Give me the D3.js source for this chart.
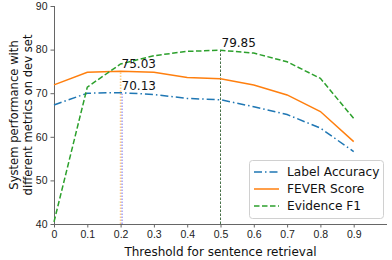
<!DOCTYPE html>
<html lang="en">
  <head>
    <meta charset="UTF-8" />
    <title>threshold for sentence retrieval</title>
    <script src="https://d3js.org/d3.v7.min.js"></script>
    <style>
      body {
        margin: 0;
      }
      svg {
        font-family: "DejaVu Sans", sans-serif;
      }
      .tick text {
        font-size: 10.5px;
        fill: #222;
      }
      .domain,
      .tick line {
        stroke: #666;
      }
    </style>
  </head>
  <body>
    <svg width="392" height="260"></svg>

    <script>
      const thresholds = [0, 0.1, 0.2, 0.3, 0.4, 0.5, 0.6, 0.7, 0.8, 0.9];
      const labelAccuracy = [67.3, 70.0, 70.13, 69.7, 68.8, 68.5, 66.9, 65.1, 62.0, 56.6];
      const feverScore = [71.9, 74.8, 75.03, 74.8, 73.6, 73.3, 71.9, 69.6, 65.8, 58.9];
      const evidenceF1 = [40.5, 71.4, 76.7, 78.6, 79.6, 79.85, 79.2, 77.2, 73.4, 64.2];
      const xTicks = [0, 0.1, 0.2, 0.3, 0.4, 0.5, 0.6, 0.7, 0.8, 0.9];
      const yTicks = [40, 50, 60, 70, 80, 90];

      const series = [
        { name: "Label Accuracy", values: labelAccuracy, color: "#1f77b4", dash: "8,3,1.5,3" },
        { name: "FEVER Score", values: feverScore, color: "#ff7f0e", dash: null },
        { name: "Evidence F1", values: evidenceF1, color: "#2ca02c", dash: "5.5,2.5" },
      ];

      const width = 392;
      const height = 260;
      const margin = { top: 6, right: 5, bottom: 36, left: 54 };
      const svg = d3.select("svg");

      const x = d3.scaleLinear().domain([0, 1]).range([margin.left, width - margin.right]);
      const y = d3.scaleLinear().domain([40, 90]).range([height - margin.bottom, margin.top]);

      svg
        .append("g")
        .attr("transform", `translate(0,${height - margin.bottom})`)
        .call(d3.axisBottom(x).tickValues(xTicks).tickFormat(d3.format("~g")).tickSize(3.5).tickPadding(3))
        .call((g) => g.select(".domain").attr("d", `M${margin.left},0.5H${width - margin.right}`));

      svg
        .append("g")
        .attr("transform", `translate(${margin.left},0)`)
        .call(d3.axisLeft(y).tickValues(yTicks).tickSize(3.5).tickPadding(3))
        .call((g) => g.select(".domain").attr("d", `M0.5,${y(40)}V${y(90)}`));

      // guide lines
      svg
        .append("line")
        .attr("x1", x(0.2))
        .attr("x2", x(0.2))
        .attr("y1", y(40))
        .attr("y2", y(feverScore[2]))
        .attr("stroke", "#ffb84d")
        .attr("stroke-opacity", 0.7)
        .attr("stroke-width", 1.6)
        .attr("stroke-dasharray", "1.5,1.5");
      svg
        .append("line")
        .attr("x1", x(0.2) + 1.5)
        .attr("x2", x(0.2) + 1.5)
        .attr("y1", y(40))
        .attr("y2", y(labelAccuracy[2]))
        .attr("stroke", "#6666ff")
        .attr("stroke-opacity", 0.7)
        .attr("stroke-width", 1.3)
        .attr("stroke-dasharray", "1.5,1.5");
      svg
        .append("line")
        .attr("x1", x(0.5))
        .attr("x2", x(0.5))
        .attr("y1", y(40))
        .attr("y2", y(evidenceF1[5]))
        .attr("stroke", "#1a4d1a")
        .attr("stroke-width", 0.8)
        .attr("stroke-dasharray", "2.5,1.5");

      const line = d3
        .line()
        .x((d, i) => x(thresholds[i]))
        .y((d) => y(d));

      series.forEach((s) => {
        svg
          .append("path")
          .attr("d", line(s.values))
          .attr("fill", "none")
          .attr("stroke", s.color)
          .attr("stroke-width", 1.5)
          .attr("stroke-dasharray", s.dash);
      });

      const notes = [
        { x: 0.2, v: feverScore[2] },
        { x: 0.2, v: labelAccuracy[2] },
        { x: 0.5, v: evidenceF1[5] },
      ];
      svg
        .selectAll(".note")
        .data(notes)
        .enter()
        .append("text")
        .attr("class", "note")
        .attr("x", (d) => x(d.x) + 1)
        .attr("y", (d) => y(d.v) - 3)
        .attr("font-size", 12)
        .attr("fill", "#111")
        .text((d) => d.v.toFixed(2));

      svg
        .append("text")
        .attr("x", (margin.left + width - margin.right) / 2)
        .attr("y", height - 4)
        .attr("text-anchor", "middle")
        .attr("font-size", 12)
        .attr("fill", "#111")
        .text("Threshold for sentence retrieval");

      const yl = svg
        .append("text")
        .attr("transform", `translate(18,${(y(40) + y(90)) / 2}) rotate(-90)`)
        .attr("text-anchor", "middle")
        .attr("font-size", 11.6)
        .attr("fill", "#111");
      yl.append("tspan").attr("x", 0).attr("dy", 0).text("System performance with");
      yl.append("tspan").attr("x", 0).attr("dy", 13.5).text("different metrics on dev set");

      // legend
      const lg = svg.append("g").attr("transform", "translate(249,160)");
      lg.append("rect")
        .attr("x", 0.5)
        .attr("y", 0.5)
        .attr("width", 134)
        .attr("height", 58)
        .attr("rx", 3)
        .attr("fill", "white")
        .attr("fill-opacity", 0.8)
        .attr("stroke", "#d0d0d0");
      series.forEach((s, i) => {
        const yy = 12 + i * 17;
        lg.append("line")
          .attr("x1", 5)
          .attr("x2", 30)
          .attr("y1", yy)
          .attr("y2", yy)
          .attr("stroke", s.color)
          .attr("stroke-width", 1.5)
          .attr("stroke-dasharray", s.dash);
        lg.append("text")
          .attr("x", 38)
          .attr("y", yy + 4)
          .attr("font-size", 12.2)
          .attr("fill", "#111")
          .text(s.name);
      });
    </script>
  </body>
</html>
